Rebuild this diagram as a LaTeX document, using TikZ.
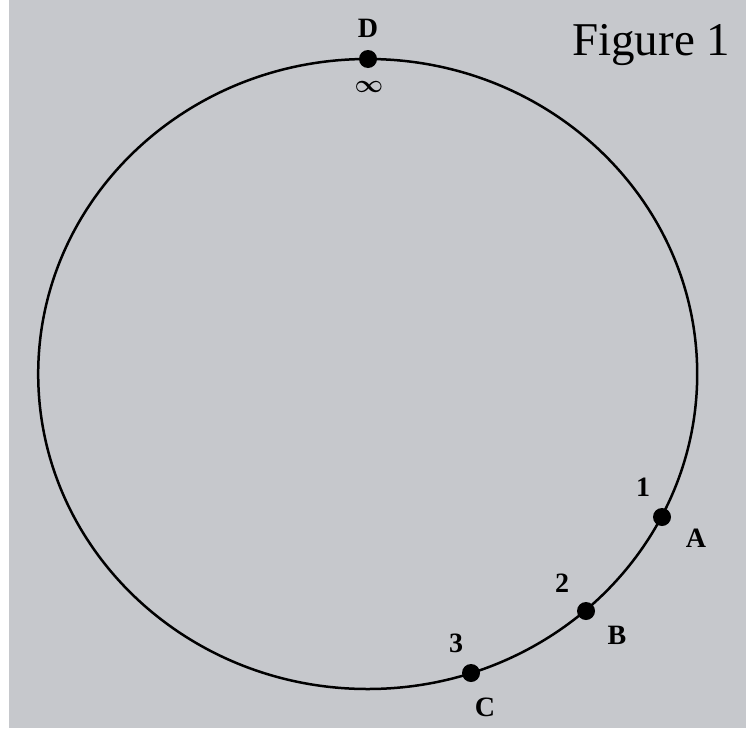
\documentclass[tikz,border=0pt]{standalone}
\usepackage{fontspec}
\setmainfont{Liberation Serif}
\definecolor{paper}{RGB}{198,200,204}
\begin{document}
\begin{tikzpicture}[x=1pt,y=-1pt,
  dotnode/.style={circle,fill=black,inner sep=0pt,minimum size=18pt},
  lbl/.style={inner sep=0pt,font=\bfseries\fontsize{28}{28}\selectfont},
  infstyle/.style={inner sep=0pt,font=\fontsize{30}{30}\selectfont\boldmath},
  title/.style={inner sep=0pt,anchor=base west,font=\fontsize{47}{47}\selectfont}]
\useasboundingbox (0,0) rectangle (746,731);
\fill[white] (0,0) rectangle (746,731);
\fill[paper] (9,0) rectangle (746,728);
\coordinate (ctr) at (367.7,374);
\draw[line width=2.5pt] (ctr) ellipse [x radius=329.5pt, y radius=315pt];
\node[dotnode] (D) at (368,59) {};
\node[dotnode] (A) at (662,517) {};
\node[dotnode] (B) at (586,611) {};
\node[dotnode] (C) at (471,673) {};
\node[lbl] (labD) at (368,28) {D};
\node[infstyle] (infsym) at (369,87) {$\infty$};
\node[lbl] (lab1) at (643,487) {1};
\node[lbl] (labA) at (696,538) {A};
\node[lbl] (lab2) at (562,583) {2};
\node[lbl] (labB) at (617,635) {B};
\node[lbl] (lab3) at (456,643) {3};
\node[lbl] (labC) at (485,707) {C};
\node[title] (fig) at (572,55) {Figure 1};
\end{tikzpicture}
\end{document}
